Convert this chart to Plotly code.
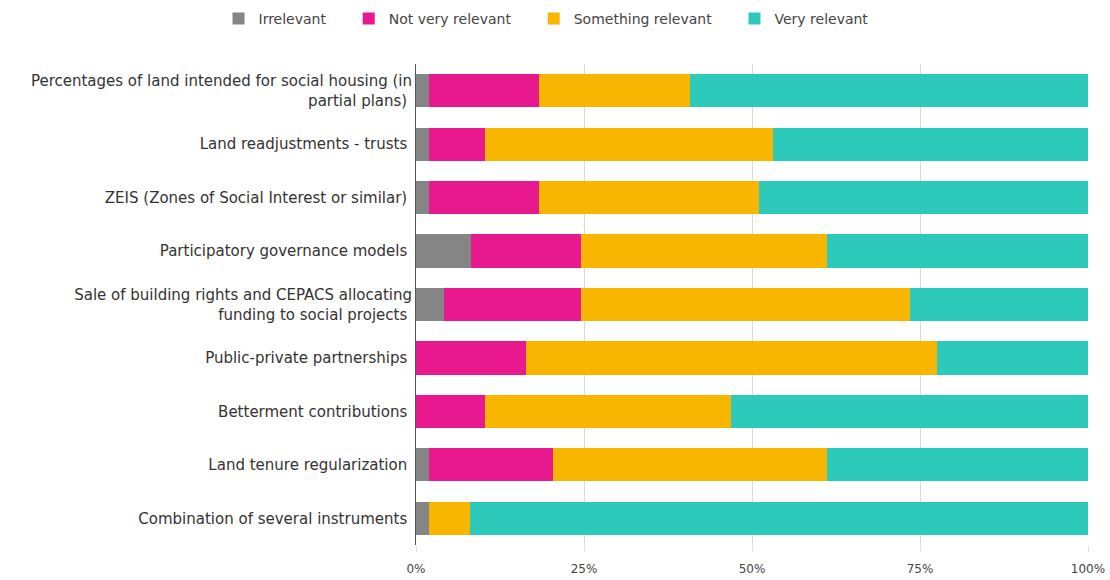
import plotly.graph_objects as go

categories = [
    "Percentages of land intended for social housing (in<br>partial plans)",
    "Land readjustments - trusts",
    "ZEIS (Zones of Social Interest or similar)",
    "Participatory governance models",
    "Sale of building rights and CEPACS allocating<br>funding to social projects",
    "Public-private partnerships",
    "Betterment contributions",
    "Land tenure regularization",
    "Combination of several instruments",
]

# Share of responses (%) per relevance level
irrelevant = [2.0, 2.0, 2.0, 8.2, 4.1, 0.0, 0.0, 2.0, 2.0]
not_very_relevant = [16.3, 8.2, 16.3, 16.3, 20.4, 16.3, 10.2, 18.4, 0.0]
something_relevant = [22.4, 42.9, 32.7, 36.7, 49.0, 61.2, 36.7, 40.8, 6.1]
very_relevant = [59.3, 46.9, 49.0, 38.8, 26.5, 22.5, 53.1, 38.8, 91.9]

tick_vals = [0, 25, 50, 75, 100]
tick_text = ["0%", "25%", "50%", "75%", "100%"]

series = [
    ("Irrelevant", irrelevant, "#858585"),
    ("Not very relevant", not_very_relevant, "#E8198F"),
    ("Something relevant", something_relevant, "#F8B600"),
    ("Very relevant", very_relevant, "#2DCABB"),
]

NBSP = "\u00a0"

fig = go.Figure()
for name, vals, color in series:
    fig.add_trace(go.Bar(
        y=categories, x=vals, name=name + NBSP * 4, orientation="h",
        marker=dict(color=color, line=dict(width=0)),
        hovertemplate=name + ": %{x:.1f}%<extra></extra>",
    ))

fig.update_layout(
    width=1110, height=580,
    barmode="stack",
    bargap=0.38,
    plot_bgcolor="white",
    paper_bgcolor="white",
    font=dict(family="DejaVu Sans, Verdana, sans-serif", size=15, color="#333333"),
    margin=dict(l=416, r=22, t=64, b=35),
    legend=dict(
        orientation="h", xref="container", yref="container",
        x=0.5, xanchor="center", y=0.995, yanchor="top",
        font=dict(size=14, color="#444444"),
        itemwidth=30, traceorder="normal",
    ),
    xaxis=dict(
        range=[0, 100], tickvals=tick_vals, ticktext=tick_text,
        automargin=False, ticklabeloverflow="allow",
        showgrid=True, gridcolor="#d9d9d9", gridwidth=1,
        zeroline=False, ticks="outside", ticklen=6, tickcolor="#dddddd",
        ticklabelstandoff=7,
        tickfont=dict(size=12, color="#444444"),
    ),
    yaxis=dict(
        autorange="reversed", automargin=False,
        showline=True, linecolor="#555555", linewidth=1,
        ticks="", ticksuffix=" ", tickfont=dict(size=15, color="#333333"),
    ),
)

fig.write_html("out.html")
